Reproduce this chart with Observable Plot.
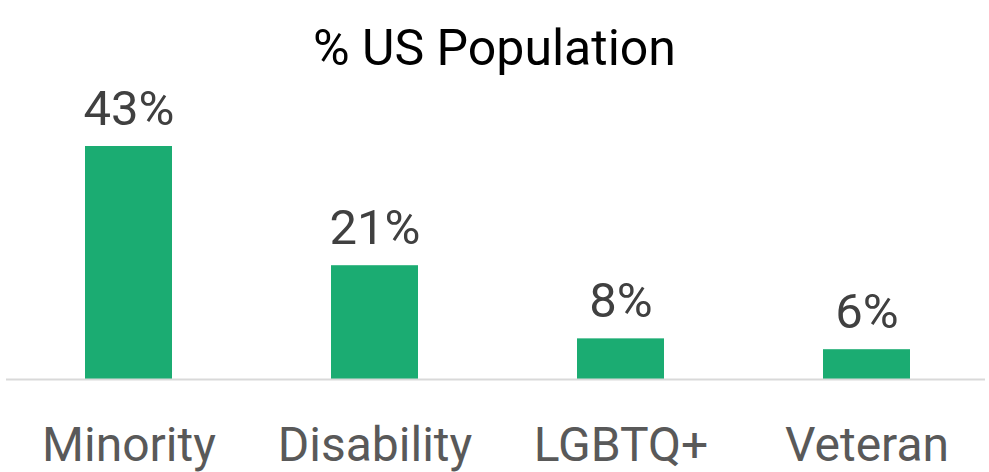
<!DOCTYPE html>
<html>
<head>
<meta charset="utf-8">
<script src="https://cdn.jsdelivr.net/npm/d3@7"></script>
<script src="https://cdn.jsdelivr.net/npm/@observablehq/plot@0.6"></script>
<style>
  html, body { margin: 0; padding: 0; background: #fff; }
  #title { height: 80px; font-family: Roboto, sans-serif; font-size: 50px; color: #000;
           text-align: center; line-height: 1; padding-top: 28px; box-sizing: border-box; }
  #title span { position: relative; top: -5px; }
</style>
</head>
<body>
<div id="title"><span>% US Population</span></div>
<div id="chart"></div>
<script>
const categories = ["Minority", "Disability", "LGBTQ+", "Veteran"];
const values = [43, 21, 7.5, 5.5];

const data = categories.map((c, i) => ({category: c, value: values[i]}));

const plot = Plot.plot({
  width: 989,
  height: 392,
  marginLeft: 6,
  marginRight: -1,
  marginTop: 66,
  marginBottom: 93,
  style: {fontFamily: "Roboto, sans-serif", background: "#fff", overflow: "visible"},
  x: {domain: categories, paddingInner: 0.646, paddingOuter: 0.323, label: null},
  y: {domain: [0, 43], axis: null},
  marks: [
    Plot.barY(data, {x: "category", y: "value", fill: "#1bac72"}),
    Plot.ruleY([0], {stroke: "#d9d9d9", strokeWidth: 2, insetLeft: 0, insetRight: 5}),
    Plot.text(data, {x: "category", y: "value", text: d => Math.round(d.value) + "%",
      lineAnchor: "bottom", dy: -22, fontSize: 49, fill: "#404040"}),
    Plot.axisX({tickSize: 0, tickPadding: 47, fontSize: 48, color: "#595959", label: null})
  ]
});
document.getElementById("chart").appendChild(plot);
</script>
</body>
</html>
